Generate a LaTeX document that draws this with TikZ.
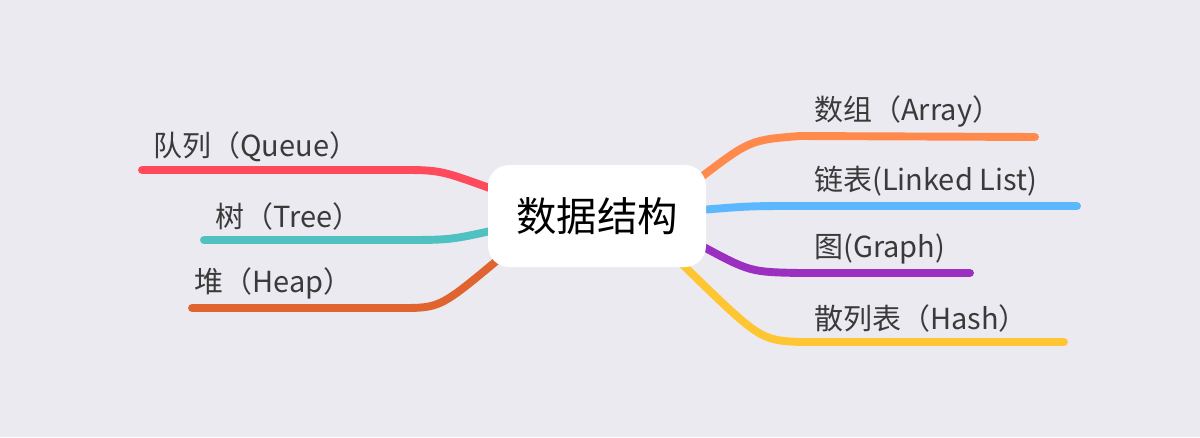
\documentclass[tikz,border=0pt]{standalone}
\usepackage{fontspec}
\setmainfont{Noto Sans CJK SC}
\usetikzlibrary{positioning,calc}
\definecolor{bgcol}{HTML}{EBEAF0}
\definecolor{txtcol}{HTML}{3A3A3A}
\definecolor{arraycol}{HTML}{FF8A4C}
\definecolor{listcol}{HTML}{5BB8FF}
\definecolor{graphcol}{HTML}{9B30C0}
\definecolor{hashcol}{HTML}{FFC633}
\definecolor{queuecol}{HTML}{FF4A5C}
\definecolor{treecol}{HTML}{4FC1C1}
\definecolor{heapcol}{HTML}{E0642F}
\tikzset{
  branch/.style={line width=4.5pt,line cap=round},
  leaf/.style={text=txtcol,font=\fontsize{16.5}{18}\selectfont,inner sep=0pt,anchor=south west}
}
\begin{document}
\begin{tikzpicture}[x=0.02cm,y=-0.02cm]
    \fill[bgcol] (0,0) rectangle (1200,437);
    % branches
    \coordinate (arrA) at (700,178);   \coordinate (arrB) at (1035,137);
    \coordinate (lstA) at (700,210);   \coordinate (lstB) at (1077,206);
    \coordinate (grpA) at (700,245);   \coordinate (grpB) at (970,273);
    \coordinate (hshA) at (680,262);   \coordinate (hshB) at (1064,342);
    \coordinate (queA) at (495,190);   \coordinate (queB) at (142,170);
    \coordinate (treA) at (495,230);   \coordinate (treB) at (204,240);
    \coordinate (hepA) at (500,258);   \coordinate (hepB) at (192,308);

    \draw[branch,arraycol] (arrA) .. controls (750,140) .. (800,136) -- (arrB);
    \draw[branch,listcol] (lstA) .. controls (750,206) .. (800,206) -- (lstB);
    \draw[branch,graphcol] (grpA) .. controls (750,272) .. (800,273) -- (grpB);
    \draw[branch,hashcol] (hshA) .. controls (760,340) .. (800,342) -- (hshB);
    \draw[branch,queuecol] (queA) .. controls (440,170) .. (400,170) -- (queB);
    \draw[branch,treecol] (treA) .. controls (450,240) .. (400,240) -- (treB);
    \draw[branch,heapcol] (hepA) .. controls (440,308) .. (400,308) -- (hepB);

    \node[fill=white,rounded corners=12pt,minimum width=218*0.02cm,minimum height=102*0.02cm,
          font=\fontsize{23}{26}\selectfont,text=black] (root) at (597,216) {数据结构};

    \node[leaf] (array) at (814,128) {数组（Array）};
    \node[leaf] (list) at (814,197) {链表(Linked List)};
    \node[leaf] (graph) at (814,264) {图(Graph)};
    \node[leaf] (hash) at (814,333) {散列表（Hash）};
    \node[leaf] (queue) at (153,162) {队列（Queue）};
    \node[leaf] (tree) at (215,231) {树（Tree）};
    \node[leaf] (heap) at (194,299) {堆（Heap）};
\end{tikzpicture}
\end{document}
